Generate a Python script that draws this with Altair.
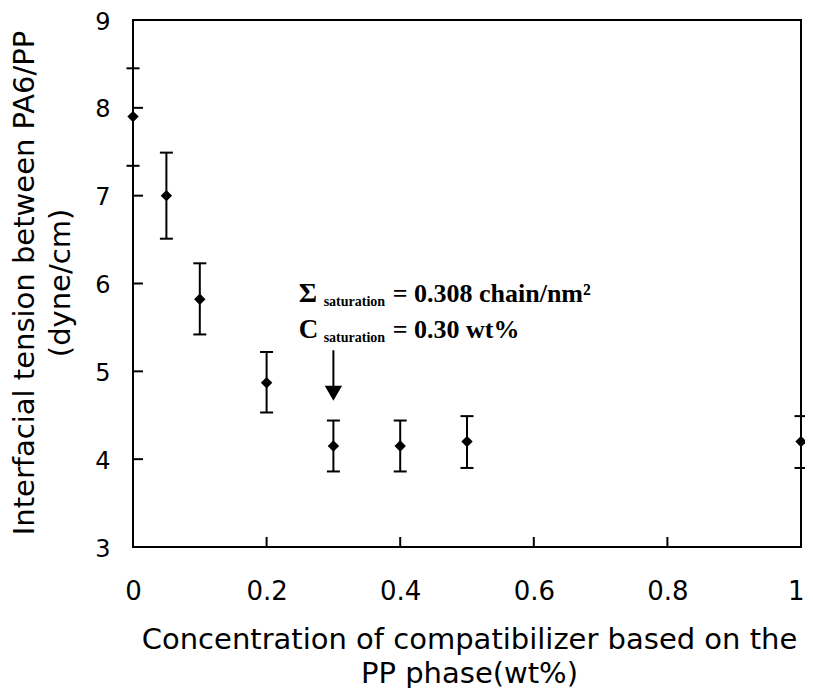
import altair as alt
import pandas as pd

# ---- data ----
conc = [0, 0.05, 0.1, 0.2, 0.3, 0.4, 0.5, 1.0]
tension = [7.9, 7.0, 5.82, 4.87, 4.15, 4.15, 4.2, 4.2]
err_high = [8.45, 7.49, 6.23, 5.22, 4.44, 4.44, 4.49, 4.49]
err_low = [7.34, 6.51, 5.42, 4.53, 3.86, 3.86, 3.9, 3.9]
x_ticks = [0, 0.2, 0.4, 0.6, 0.8, 1.0]
y_ticks = [3, 4, 5, 6, 7, 8, 9]

x_title = ["Concentration of compatibilizer based on the", "PP phase(wt%)"]
y_title = ["Interfacial tension between PA6/PP", "(dyne/cm)"]

# annotation anchor (data units)
ann_x = [0.248]
ann_y1 = [5.79]
ann_y2 = [5.38]
arrow_x = [0.3]
arrow_top = [5.24]
arrow_head = [4.75]

df = pd.DataFrame(dict(conc=conc, tension=tension, hi=err_high, lo=err_low))
xt = pd.DataFrame(dict(v=x_ticks))
yt = pd.DataFrame(dict(v=y_ticks))

W, H = 668, 527
SANS = "DejaVu Sans"
SERIF = "Liberation Serif"

xs = alt.Scale(domain=[0, 1], nice=False, zero=False)
ys = alt.Scale(domain=[3, 9], nice=False, zero=False)

x_axis = alt.Axis(
    values=x_ticks, format="~g", title=x_title, tickSize=0, domain=False, grid=False,
    labelFont=SANS, labelFontSize=26, labelPadding=31, labelColor="black",
    labelFlush=False, labelOverlap=False,
    labelAlign={"condition": {"test": "datum.value === 1", "value": "right"}, "value": "center"},
    labelOffset={"condition": {"test": "datum.value === 1", "value": 3}, "value": 0},
    titleFont=SANS, titleFontSize=29, titleFontWeight="normal", titleColor="black",
    titleX=W / 2 + 2, titleY=101, titleBaseline="alphabetic", titleAlign="center",
    titleLineHeight=34,
)
y_axis = alt.Axis(
    values=y_ticks, title=y_title, tickSize=0, domain=False, grid=False,
    labelFont=SANS, labelFontSize=24, labelPadding=23, labelColor="black",
    labelFlush=False, labelOverlap=False, labelOffset=2,
    titleFont=SANS, titleFontSize=29, titleFontWeight="normal", titleColor="black",
    titleAngle=270, titleX=-100, titleY=H / 2 - 1, titleBaseline="alphabetic",
    titleAlign="center", titleLineHeight=36,
)


def X(field):
    return alt.X(field, scale=xs, axis=x_axis)


def Y(field):
    return alt.Y(field, scale=ys, axis=y_axis)


base = alt.Chart(df)

bars = base.mark_rule(color="black", strokeWidth=2).encode(
    x=X("conc:Q"), y=Y("lo:Q"), y2="hi:Q",
)
cap_hi = base.mark_tick(orient="horizontal", size=13, thickness=2, color="black", opacity=1).encode(
    x=X("conc:Q"), y=Y("hi:Q"),
)
cap_lo = base.mark_tick(orient="horizontal", size=13, thickness=2, color="black", opacity=1).encode(
    x=X("conc:Q"), y=Y("lo:Q"),
)
points = base.mark_point(shape="diamond", filled=True, size=130, color="black", opacity=1).encode(
    x=X("conc:Q"), y=Y("tension:Q"),
)

ytick_marks = alt.Chart(yt).mark_rule(color="black", strokeWidth=2).encode(
    y=Y("v:Q"), x=alt.value(0), x2=alt.value(10),
)
xtick_marks = alt.Chart(xt).mark_rule(color="black", strokeWidth=2).encode(
    x=X("v:Q"), y=alt.value(H), y2=alt.value(H - 10),
)

arr_df = pd.DataFrame(dict(x=arrow_x, top=arrow_top, head=arrow_head))
arrow_line = alt.Chart(arr_df).mark_rule(color="black", strokeWidth=2).encode(
    x=X("x:Q"), y=Y("top:Q"), y2="head:Q",
)
arrow_tip = alt.Chart(arr_df).mark_point(shape="triangle-down", filled=True, size=300,
                                         color="black", opacity=1).encode(
    x=X("x:Q"), y=Y("head:Q"),
)

ann_df = pd.DataFrame(dict(x=ann_x, y1=ann_y1, y2=ann_y2))


def piece(text, ycol, size, dx, dy=0):
    return alt.Chart(ann_df).mark_text(
        text=text, font=SERIF, fontWeight="bold", fontSize=size, align="left",
        baseline="alphabetic", dx=dx, dy=dy, color="black",
    ).encode(x=X("x:Q"), y=Y(f"{ycol}:Q"))


texts = [
    piece("\u03a3", "y1", 28, 0),
    piece("saturation", "y1", 14, 25, 4),
    piece("= 0.308 chain/nm\u00b2", "y1", 26, 94),
    piece("C", "y2", 27, 0),
    piece("saturation", "y2", 14, 25, 4),
    piece("= 0.30 wt%", "y2", 26, 94),
]

chart = alt.layer(
    bars, cap_hi, cap_lo, points, ytick_marks, xtick_marks, arrow_line, arrow_tip, *texts
).properties(
    width=W, height=H,
    padding={"left": 125, "top": 12, "right": 4, "bottom": 141},
    autosize=alt.AutoSizeParams(type="none"),
    background="white",
).configure_view(
    stroke="black", strokeWidth=2
)

chart.save("out.html", embed_options={"renderer": "svg", "actions": False})
